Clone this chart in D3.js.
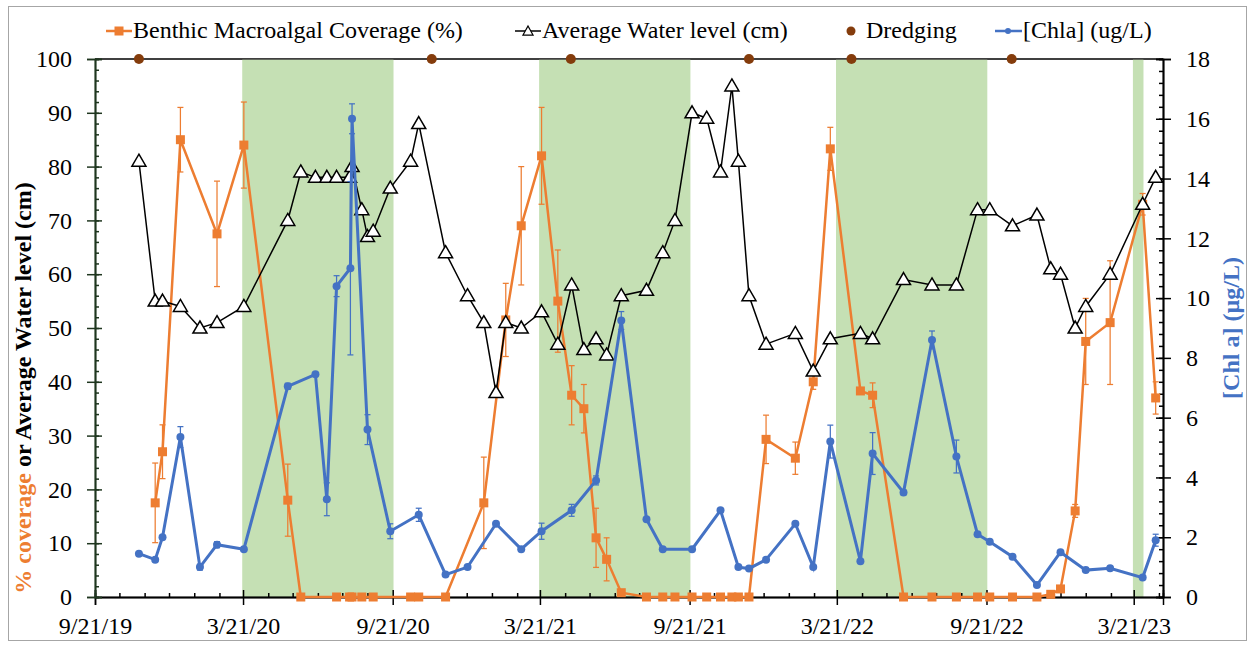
<!DOCTYPE html>
<html>
<head>
<meta charset="utf-8">
<title>Coverage, water level and Chl a</title>
<script src="https://cdn.jsdelivr.net/npm/d3@7"></script>
<style>
  html, body { margin: 0; background: #fff; }
  svg text { font-family: "Liberation Serif", "Times New Roman", serif; }
</style>
</head>
<body>
<script>
// ---- data ----
var waterDates = ["2019-11-14","2019-12-04","2019-12-13","2020-01-04","2020-01-28","2020-02-18","2020-03-22",
  "2020-05-15","2020-05-31","2020-06-18","2020-07-02","2020-07-14","2020-07-30","2020-08-02",
  "2020-08-14","2020-08-21","2020-08-28","2020-09-18","2020-10-13","2020-10-23",
  "2020-11-25","2020-12-22","2021-01-11","2021-01-26","2021-02-07","2021-02-26","2021-03-23",
  "2021-04-12","2021-04-29","2021-05-14","2021-05-29","2021-06-11","2021-06-29",
  "2021-07-30","2021-08-19","2021-09-03","2021-09-24","2021-10-12",
  "2021-10-29","2021-11-12","2021-11-20","2021-12-03","2021-12-24",
  "2022-01-29","2022-02-20","2022-03-13","2022-04-19","2022-05-04",
  "2022-06-11","2022-07-16","2022-08-15","2022-09-10","2022-09-25",
  "2022-10-23","2022-11-22","2022-12-09","2022-12-21","2023-01-08","2023-01-21","2023-02-20","2023-04-01","2023-04-17"];
var waterLevel = [81,55,55,54,50,51,54, 70,79,78,78,78,78,80, 72,67,68,76,81,88,
  64,56,51,38,51,50,53, 47,58,46,48,45,56, 57,64,70,90,89, 79,95,81,56,47,
  49,42,48,49,48, 59,58,58,72,72, 69,71,61,60,50,54,60,73,78];

var coverDates = ["2019-12-04","2019-12-13","2020-01-04","2020-02-18","2020-03-22","2020-05-15",
  "2020-05-31","2020-07-14","2020-07-30","2020-08-02","2020-08-14","2020-08-28",
  "2020-10-13","2020-10-23","2020-11-25",
  "2021-01-11","2021-02-07","2021-02-26","2021-03-23","2021-04-12","2021-04-29","2021-05-14","2021-05-29","2021-06-11","2021-06-29",
  "2021-07-30","2021-08-19","2021-09-03","2021-09-24","2021-10-12","2021-10-29","2021-11-12","2021-11-20","2021-12-03",
  "2021-12-24","2022-01-29","2022-02-20","2022-03-13","2022-04-19","2022-05-04",
  "2022-06-11","2022-07-16","2022-08-15","2022-09-10","2022-09-25",
  "2022-10-23","2022-11-22","2022-12-09","2022-12-21",
  "2023-01-08","2023-01-21","2023-02-20","2023-04-01","2023-04-17"];
var coverage = [17.5,27,85,67.5,84,18, 0,0,0,0,0,0, 0,0,0,
  17.5,51.5,69,82,55,37.5,35,11,7,0.8, 0,0,0,0,0,0,0,0,0,
  29.3,25.8,40,83.3,38.3,37.5, 0,0,0,0,0, 0,0,0.5,1.5, 16,47.5,51,73,37];
var coverageErr = [7.4,5,6,9.8,8,6.7, 0,0,0,0,0,0, 0,0,0,
  8.5,6.8,11,9,9.5,5.5,4.5,5.5,4,0, 0,0,0,0,0,0,0,0,0,
  4.5,3,1.4,4,0.5,2.3, 0,0,0,0,0, 0,0,0,0, 1.2,8,11.5,2,3];

var chlaDates = ["2019-11-14","2019-12-04","2019-12-13","2020-01-04","2020-01-28","2020-02-18","2020-03-22",
  "2020-05-15","2020-06-18","2020-07-02","2020-07-14","2020-07-31","2020-08-02","2020-08-21","2020-09-18",
  "2020-10-23","2020-11-25","2020-12-22",
  "2021-01-26","2021-02-26","2021-03-23","2021-04-29","2021-05-29","2021-06-29",
  "2021-07-30","2021-08-19","2021-09-24","2021-10-29","2021-11-20","2021-12-03","2021-12-24",
  "2022-01-29","2022-02-20","2022-03-13","2022-04-19","2022-05-04",
  "2022-06-11","2022-07-16","2022-08-15","2022-09-10","2022-09-25",
  "2022-10-23","2022-11-22","2022-12-21","2023-01-21","2023-02-20","2023-04-01","2023-04-17"];
var chla = [1.45,1.25,2.0,5.35,1.0,1.75,1.6, 7.05,7.45,3.27,10.4,11.0,16.0,5.6,2.2, 2.75,0.75,1.0,
  2.45,1.6,2.2,2.9,3.9,9.25, 2.6,1.6,1.6,2.9,1.0,0.95,1.25, 2.45,1.0,5.2,1.2,4.8,
  3.5,8.6,4.7,2.1,1.85, 1.35,0.4,1.5,0.9,0.96,0.65,1.9];
var chlaErr = [0,0,0,0.35,0.1,0.1,0.05, 0.1,0.05,0.55,0.35,2.9,0.5,0.5,0.25, 0.22,0.05,0,
  0,0,0.27,0.2,0.15,0.3, 0,0,0,0,0,0,0, 0,0,0.55,0,0.7,
  0.08,0.3,0.55,0,0, 0,0,0,0,0,0,0.2];

var dredgeDates = ["2019-11-14","2020-11-08","2021-04-28","2021-12-03","2022-04-08","2022-10-22"];

// growing seasons (green bands)
var seasonStart = ["2020-03-20","2021-03-20","2022-03-20","2023-03-20"];
var seasonEnd   = ["2020-09-22","2021-09-22","2022-09-22","2023-04-02"];

var xMajorTicks = ["2019-09-21","2020-03-21","2020-09-21","2021-03-21","2021-09-21","2022-03-21","2022-09-21","2023-03-21"];
var leftTicks = [0,10,20,30,40,50,60,70,80,90,100];
var rightTicks = [0,2,4,6,8,10,12,14,16,18];

// ---- setup ----
var W = 1250, H = 645;
var pL = 95, pR = 1163, pT = 59, pB = 597;
var ORANGE = "#ED7D31", BLUE = "#4472C4", BROWN = "#843C0C", GREEN = "#C5E0B4";
var FONT = "Liberation Serif, Times New Roman, serif";

var parse = d3.timeParse("%Y-%m-%d");
var fmt = d3.timeFormat("%-m/%-d/%y");

var x = d3.scaleTime().domain([parse("2019-09-21"), parse("2023-04-26")]).range([pL, pR]);
var yL = d3.scaleLinear().domain([0, 100]).range([pB, pT]);
var yR = d3.scaleLinear().domain([0, 18]).range([pB, pT]);

var svg = d3.select("body").append("svg").attr("width", W).attr("height", H)
  .attr("font-family", FONT);

svg.append("rect").attr("x", 8.5).attr("y", 6.5).attr("width", 1238).attr("height", 634)
  .attr("fill", "none").attr("stroke", "#a6a6a6");

// top border line of plot
svg.append("line").attr("x1", pL).attr("x2", pR).attr("y1", pT).attr("y2", pT)
  .attr("stroke", "#000").attr("stroke-width", 1.5);

// season bands
svg.selectAll("rect.band").data(seasonStart).enter().append("rect")
  .attr("class", "band")
  .attr("x", function(d){ return x(parse(d)); })
  .attr("y", pT + 0.75)
  .attr("width", function(d, i){ return x(parse(seasonEnd[i])) - x(parse(d)); })
  .attr("height", pB - pT - 0.75)
  .attr("fill", GREEN);

// ---- axes ----
var majors = xMajorTicks.map(parse);
var minors = d3.timeMonth.range(parse("2019-10-01"), parse("2023-04-26"))
  .map(function(d){ return new Date(d.getFullYear(), d.getMonth(), 21); })
  .filter(function(d){ return d <= x.domain()[1] && majors.every(function(m){ return +m !== +d; }); });

function styleAxis(g, col) {
  g.select(".domain").attr("stroke", col).attr("stroke-width", 1.5);
  g.selectAll(".tick line").attr("stroke", col).attr("stroke-width", 1.5);
  g.selectAll("text").attr("font-size", 24).attr("fill", "#000").attr("font-family", FONT);
}

// bottom
var gx = svg.append("g").attr("transform", "translate(0," + pB + ")");
gx.append("g").call(d3.axisTop(x).tickValues(minors).tickSize(4).tickFormat("")).call(styleAxis, "#000");
gx.append("g").call(d3.axisTop(x).tickValues(majors).tickSize(7).tickFormat("")).call(styleAxis, "#000");
gx.append("g").call(d3.axisBottom(x).tickValues(majors).tickSize(8).tickPadding(12).tickFormat(fmt))
  .call(styleAxis, "#000");

// left
var LCOL = "#1f361f";
var gl = svg.append("g").attr("transform", "translate(" + pL + ",0)");
gl.append("g").call(d3.axisRight(yL).tickValues(d3.range(0, 101, 2)).tickSize(4).tickFormat("")).call(styleAxis, LCOL);
gl.append("g").call(d3.axisRight(yL).tickValues(leftTicks).tickSize(7).tickFormat("")).call(styleAxis, LCOL);
gl.append("g").call(d3.axisLeft(yL).tickValues(leftTicks).tickSize(8).tickPadding(15)).call(styleAxis, LCOL);

// right
var gr = svg.append("g").attr("transform", "translate(" + pR + ",0)");
gr.append("g").call(d3.axisLeft(yR).tickValues(d3.range(0, 18.01, 0.4)).tickSize(4).tickFormat("")).call(styleAxis, "#000");
gr.append("g").call(d3.axisLeft(yR).tickValues(rightTicks).tickSize(7).tickFormat("")).call(styleAxis, "#000");
gr.append("g").call(d3.axisRight(yR).tickValues(rightTicks).tickSize(8).tickPadding(15)).call(styleAxis, "#000");

// axis titles
var tl = svg.append("text").attr("transform", "translate(31,388) rotate(-90)")
  .attr("text-anchor", "middle").attr("font-size", 24).attr("font-weight", "bold");
tl.append("tspan").attr("fill", ORANGE).text("% coverage");
tl.append("tspan").attr("fill", "#000").text(" or Average Water level (cm)");

svg.append("text").attr("transform", "translate(1239,328) rotate(-90)")
  .attr("text-anchor", "middle").attr("font-size", 24).attr("font-weight", "bold")
  .attr("fill", BLUE).text("[Chl a] (µg/L)");

// ---- series ----
function errBars(g, data, xs, ys, col) {
  var e = g.selectAll("g.err").data(data.filter(function(d){ return d.e > 0; })).enter().append("g")
    .attr("stroke", col).attr("stroke-width", 1.25);
  e.append("line").attr("x1", function(d){ return xs(d.date); }).attr("x2", function(d){ return xs(d.date); })
    .attr("y1", function(d){ return ys(d.v - d.e); }).attr("y2", function(d){ return ys(d.v + d.e); });
  e.append("line").attr("x1", function(d){ return xs(d.date) - 3; }).attr("x2", function(d){ return xs(d.date) + 3; })
    .attr("y1", function(d){ return ys(d.v + d.e); }).attr("y2", function(d){ return ys(d.v + d.e); });
  e.append("line").attr("x1", function(d){ return xs(d.date) - 3; }).attr("x2", function(d){ return xs(d.date) + 3; })
    .attr("y1", function(d){ return ys(d.v - d.e); }).attr("y2", function(d){ return ys(d.v - d.e); });
}

var cover = coverDates.map(function(d, i){ return {date: parse(d), v: coverage[i], e: coverageErr[i]}; });
var water = waterDates.map(function(d, i){ return {date: parse(d), v: waterLevel[i]}; });
var chl = chlaDates.map(function(d, i){ return {date: parse(d), v: chla[i], e: chlaErr[i]}; });

// coverage
var gc = svg.append("g");
errBars(gc, cover, x, yL, ORANGE);
gc.append("path").datum(cover)
  .attr("d", d3.line().x(function(d){ return x(d.date); }).y(function(d){ return yL(d.v); }))
  .attr("fill", "none").attr("stroke", ORANGE).attr("stroke-width", 2.5);
gc.selectAll("rect.m").data(cover).enter().append("rect")
  .attr("x", function(d){ return x(d.date) - 4.5; }).attr("y", function(d){ return yL(d.v) - 4.5; })
  .attr("width", 9).attr("height", 9).attr("fill", ORANGE);

// water level
var tri = "M0,-7L7,5L-7,5Z";
var gw = svg.append("g");
gw.append("path").datum(water)
  .attr("d", d3.line().x(function(d){ return x(d.date); }).y(function(d){ return yL(d.v); }))
  .attr("fill", "none").attr("stroke", "#000").attr("stroke-width", 1.5);
gw.selectAll("path.m").data(water).enter().append("path")
  .attr("d", tri)
  .attr("transform", function(d){ return "translate(" + x(d.date) + "," + yL(d.v) + ")"; })
  .attr("fill", "#fff").attr("stroke", "#000").attr("stroke-width", 1.5);

// dredging
svg.selectAll("circle.dredge").data(dredgeDates).enter().append("circle")
  .attr("cx", function(d){ return x(parse(d)); }).attr("cy", yL(100)).attr("r", 5)
  .attr("fill", BROWN);

// chl a
var gb = svg.append("g");
errBars(gb, chl, x, yR, BLUE);
gb.append("path").datum(chl)
  .attr("d", d3.line().x(function(d){ return x(d.date); }).y(function(d){ return yR(d.v); }))
  .attr("fill", "none").attr("stroke", BLUE).attr("stroke-width", 3);
gb.selectAll("circle.m").data(chl).enter().append("circle")
  .attr("cx", function(d){ return x(d.date); }).attr("cy", function(d){ return yR(d.v); })
  .attr("r", 4).attr("fill", BLUE);

// ---- legend ----
var lg = svg.append("g").attr("font-size", 24).attr("font-family", FONT);
var ly = 31;
lg.append("line").attr("x1", 106).attr("x2", 132).attr("y1", ly).attr("y2", ly).attr("stroke", ORANGE).attr("stroke-width", 2.5);
lg.append("rect").attr("x", 114.5).attr("y", ly - 4.5).attr("width", 9).attr("height", 9).attr("fill", ORANGE);
lg.append("text").attr("x", 133).attr("y", 38).text("Benthic Macroalgal Coverage (%)");

lg.append("line").attr("x1", 515).attr("x2", 541).attr("y1", ly).attr("y2", ly).attr("stroke", "#000").attr("stroke-width", 1.5);
lg.append("path").attr("d", "M0,-5L5,4L-5,4Z").attr("transform", "translate(528," + ly + ")")
  .attr("fill", "#fff").attr("stroke", "#000").attr("stroke-width", 1.25);
lg.append("text").attr("x", 542).attr("y", 38).text("Average Water level (cm)");

lg.append("circle").attr("cx", 851).attr("cy", ly).attr("r", 4.5).attr("fill", BROWN);
lg.append("text").attr("x", 866).attr("y", 38).text("Dredging");

lg.append("line").attr("x1", 995).attr("x2", 1022).attr("y1", ly).attr("y2", ly).attr("stroke", BLUE).attr("stroke-width", 2.5);
lg.append("circle").attr("cx", 1008).attr("cy", ly).attr("r", 3).attr("fill", BLUE);
lg.append("text").attr("x", 1023).attr("y", 38).text("[Chla] (ug/L)");
</script>
</body>
</html>
